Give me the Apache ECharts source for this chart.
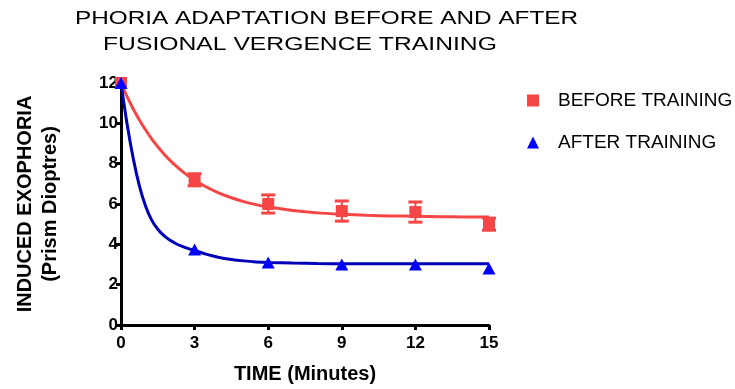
<!DOCTYPE html>
<html>
<head>
<meta charset="utf-8">
<script src="https://cdn.jsdelivr.net/npm/echarts@6/dist/echarts.min.js"></script>
<style>html,body{margin:0;padding:0;background:#fff;}#c{width:735px;height:389px;}</style>
</head>
<body>
<div id="c"></div>
<script>
// Measured data points
const timeMin = [0, 3, 6, 9, 12, 15];
const beforeMean = [12, 7.2, 6.0, 5.65, 5.6, 5.0];
const beforeErr = [0, 0.3, 0.45, 0.5, 0.5, 0.3];
const afterMean = [12, 3.75, 3.1, 3.0, 3.0, 2.8];
// Fitted curves
const fitT = [0, 0.25, 0.5, 0.75, 1, 1.25, 1.5, 1.75, 2, 2.25, 2.5, 2.75, 3, 3.5, 4, 4.5, 5, 5.5, 6, 7, 8, 9, 10, 11, 12, 13, 14, 15];
const beforeFit = [12, 11.32, 10.71, 10.17, 9.68, 9.23, 8.84, 8.48, 8.16, 7.88, 7.62, 7.39, 7.18, 6.83, 6.54, 6.31, 6.12, 5.97, 5.85, 5.68, 5.56, 5.49, 5.44, 5.41, 5.39, 5.37, 5.36, 5.36];
const afterFit = [12, 9.95, 8.25, 6.9, 5.9, 5.2, 4.75, 4.43, 4.2, 4.03, 3.9, 3.79, 3.7, 3.5, 3.35, 3.25, 3.18, 3.13, 3.1, 3.07, 3.05, 3.04, 3.04, 3.04, 3.04, 3.04, 3.04, 3.04];
const xTicks = [0, 3, 6, 9, 12, 15];
const yTicks = [0, 2, 4, 6, 8, 10, 12];
const seriesNames = ['BEFORE TRAINING', 'AFTER TRAINING'];
const titleLines = ['PHORIA ADAPTATION BEFORE AND AFTER', 'FUSIONAL VERGENCE TRAINING'];

const RED = '#F54545', BLUE_LINE = '#0000B8', BLUE = '#0000FF';
const FONT = '"Liberation Sans", Arial, sans-serif';

const chart = echarts.init(document.getElementById('c'));
const zip = (a, b) => a.map((v, i) => [v, b[i]]);

chart.setOption({
  animation: false,
  backgroundColor: '#fff',
  graphic: [
    { type: 'text', x: 75, y: 9, scaleX: 1.28, scaleY: 1, silent: true,
      style: { text: titleLines[0], font: 'normal 19px ' + FONT, fill: '#000', textAlign: 'left', textVerticalAlign: 'top' } },
    { type: 'text', x: 103, y: 35, scaleX: 1.3, scaleY: 1, silent: true,
      style: { text: titleLines[1], font: 'normal 19px ' + FONT, fill: '#000', textAlign: 'left', textVerticalAlign: 'top' } }
  ],
  legend: {
    orient: 'vertical', left: 522, top: 86, itemGap: 23, itemWidth: 12, itemHeight: 12,
    textStyle: { fontFamily: FONT, fontSize: 19, color: '#000', padding: [0, 0, 0, 14] },
    data: [{ name: seriesNames[0], icon: 'rect' }, { name: seriesNames[1], icon: 'triangle' }]
  },
  grid: { left: 121, right: 246, top: 83, bottom: 61, containLabel: false },
  xAxis: {
    type: 'value', min: xTicks[0], max: xTicks[xTicks.length - 1], interval: 3,
    name: 'TIME (Minutes)', nameLocation: 'middle', nameGap: 39,
    nameTextStyle: { fontFamily: FONT, fontSize: 20, fontWeight: 'bold', color: '#000' },
    axisLine: { lineStyle: { color: '#000', width: 3 } },
    axisTick: { length: 5, lineStyle: { color: '#000', width: 3 } },
    axisLabel: { margin: 10, fontFamily: FONT, fontSize: 17, fontWeight: 'bold', color: '#000' },
    splitLine: { show: false }
  },
  yAxis: {
    type: 'value', min: yTicks[0], max: yTicks[yTicks.length - 1], interval: 2,
    name: 'INDUCED EXOPHORIA\n(Prism Dioptres)', nameLocation: 'middle', nameRotate: 90, nameGap: 58,
    nameTextStyle: { fontFamily: FONT, fontSize: 20, fontWeight: 'bold', color: '#000', lineHeight: 25 },
    axisLine: { show: true, lineStyle: { color: '#000', width: 3 } },
    axisTick: { show: true, length: 5, lineStyle: { color: '#000', width: 3 } },
    axisLabel: { margin: 3, fontFamily: FONT, fontSize: 17, fontWeight: 'bold', color: '#000' },
    splitLine: { show: false }
  },
  series: [
    { name: 'beforeFit', type: 'line', data: zip(fitT, beforeFit), smooth: 0.3,
      showSymbol: false, symbol: 'none', lineStyle: { color: RED, width: 3 }, itemStyle: { color: RED }, z: 2 },
    { name: 'afterFit', type: 'line', data: zip(fitT, afterFit), smooth: 0.3,
      showSymbol: false, symbol: 'none', lineStyle: { color: BLUE_LINE, width: 3 }, itemStyle: { color: BLUE_LINE }, z: 2 },
    { name: 'beforeErr', type: 'custom', z: 3, clip: false,
      data: timeMin.map((t, i) => [t, beforeMean[i] - beforeErr[i], beforeMean[i] + beforeErr[i]]).filter(d => d[2] > d[1]),
      renderItem: function (params, api) {
        const lo = api.coord([api.value(0), api.value(1)]);
        const hi = api.coord([api.value(0), api.value(2)]);
        const hw = 7;
        const st = { stroke: RED, lineWidth: 3 };
        return { type: 'group', children: [
          { type: 'line', shape: { x1: lo[0], y1: lo[1], x2: hi[0], y2: hi[1] }, style: { stroke: RED, lineWidth: 2 } },
          { type: 'line', shape: { x1: lo[0] - hw, y1: lo[1], x2: lo[0] + hw, y2: lo[1] }, style: st },
          { type: 'line', shape: { x1: hi[0] - hw, y1: hi[1], x2: hi[0] + hw, y2: hi[1] }, style: st }
        ] };
      } },
    { name: seriesNames[0], type: 'scatter', data: zip(timeMin, beforeMean), symbol: 'rect', symbolSize: 12,
      itemStyle: { color: RED, opacity: 1 }, clip: false, z: 4 },
    { name: seriesNames[1], type: 'scatter', data: zip(timeMin, afterMean), symbol: 'triangle', symbolSize: [13, 12],
      itemStyle: { color: BLUE, opacity: 1 }, clip: false, z: 5 }
  ]
});
</script>
</body>
</html>
